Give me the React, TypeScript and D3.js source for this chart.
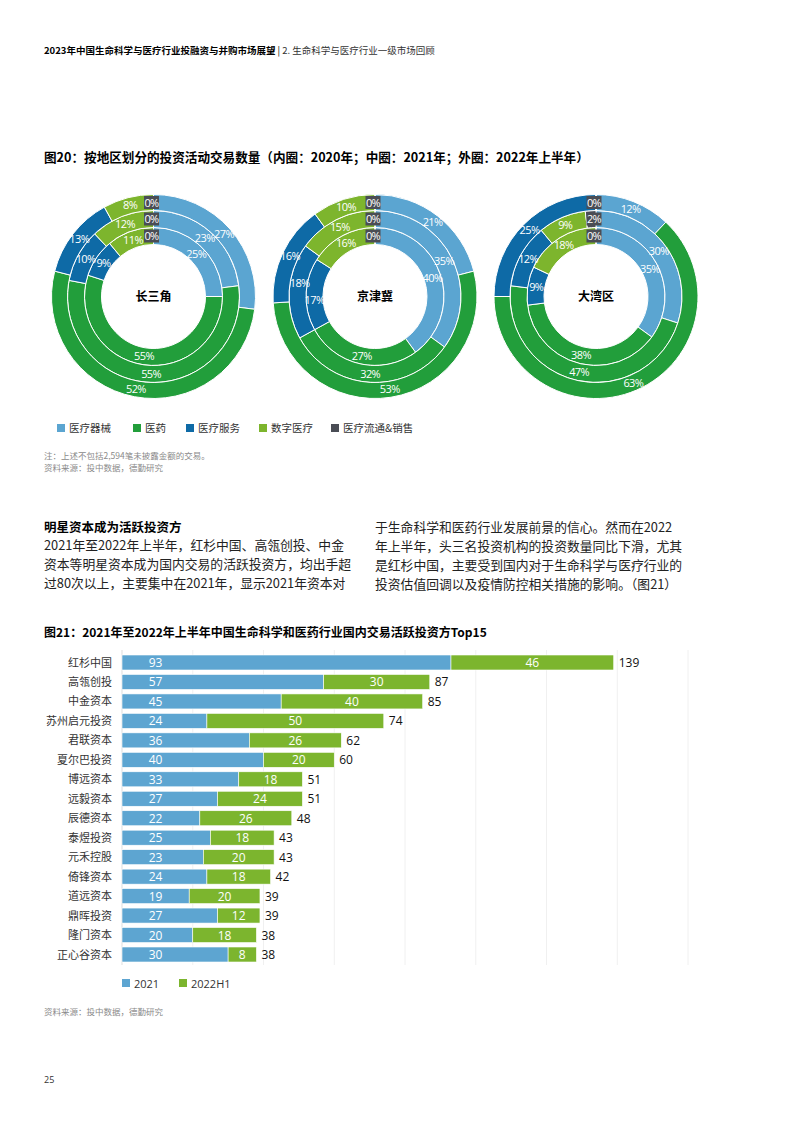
import React from 'react';
import * as d3 from 'd3';

const categories = ['医疗器械', '医药', '医疗服务', '数字医疗', '医疗流通&销售'];
const catColors = ['#5BA5D1', '#229E3B', '#0E6AA6', '#7DB52D', '#4A4D55'];

const regions = ['长三角', '京津冀', '大湾区'];
// rings: inner 2020, middle 2021, outer 2022H1 (percent by category)
const yrd2020 = [25, 55, 9, 11, 0];
const yrd2021 = [23, 55, 10, 12, 0];
const yrd2022 = [27, 52, 13, 8, 0];
const bth2020 = [40, 27, 17, 16, 0];
const bth2021 = [35, 32, 18, 15, 0];
const bth2022 = [21, 53, 16, 10, 0];
const gba2020 = [35, 38, 9, 18, 0];
const gba2021 = [30, 47, 12, 9, 2];
const gba2022 = [12, 63, 25, 0, 0];
const ringData = [
  [yrd2020, yrd2021, yrd2022],
  [bth2020, bth2021, bth2022],
  [gba2020, gba2021, gba2022],
];

const investors = ['红杉中国', '高瓴创投', '中金资本', '苏州启元投资', '君联资本', '夏尔巴投资', '博远资本', '远毅资本', '辰德资本', '泰煜投资', '元禾控股', '倚锋资本', '道远资本', '鼎晖投资', '隆门资本', '正心谷资本'];
const deals2021 = [93, 57, 45, 24, 36, 40, 33, 27, 22, 25, 23, 24, 19, 27, 20, 30];
const deals2022H1 = [46, 30, 40, 50, 26, 20, 18, 24, 26, 18, 20, 18, 20, 12, 18, 8];
const barSeries = ['2021', '2022H1'];
const barColors = ['#5DA5D1', '#7CB52E'];
const xTicks = [0, 20, 40, 60, 80, 100, 120, 140, 160];

const leftLines = [
  '2021年至2022年上半年，红杉中国、高瓴创投、中金',
  '资本等明星资本成为国内交易的活跃投资方，均出手超',
  '过80次以上，主要集中在2021年，显示2021年资本对',
];
const rightLines = [
  '于生命科学和医药行业发展前景的信心。然而在2022',
  '年上半年，头三名投资机构的投资数量同比下滑，尤其',
  '是红杉中国，主要受到国内对于生命科学与医疗行业的',
  '投资估值回调以及疫情防控相关措施的影响。（图21）',
];

const FONT = '"Open Sans", "Noto Sans CJK SC", sans-serif';
const CJK = '"Noto Sans CJK SC", "Open Sans", sans-serif';

// label nudges (donut index-ring index-category index) to avoid collisions
const nudges: Record<string, [number, number]> = {
  '1-1-2': [2, -9],
  '1-0-2': [0, 5],
};

function Donut({ idx, cx, cy, name, rings }: { idx: number; cx: number; cy: number; name: string; rings: number[][] }) {
  const radii = [[52, 69], [69, 86], [86, 102]];
  const pie = d3.pie<number>().sort(null).value((d) => d);
  return (
    <g transform={`translate(${cx},${cy})`}>
      {rings.map((vals, ri) => {
        const [r0, r1] = radii[ri];
        const arc = d3.arc<d3.PieArcDatum<number>>().innerRadius(r0).outerRadius(r1);
        const arcs = pie(vals);
        return (
          <g key={ri}>
            {arcs.map((a, i) => (
              <path key={i} d={arc(a) || ''} fill={catColors[i]} stroke="#fff" strokeWidth={1} />
            ))}
          </g>
        );
      })}
      {rings.map((vals, ri) => {
        const [r0, r1] = radii[ri];
        const arc = d3.arc<d3.PieArcDatum<number>>().innerRadius(r0).outerRadius(r1);
        const arcs = pie(vals);
        const rm = (r0 + r1) / 2;
        return (
          <g key={'l' + ri}>
            {arcs.map((a, i) => {
              if (i === 4) {
                return (
                  <g key={i} transform={`translate(${-2},${-rm})`}>
                    <rect x={-7.5} y={-6.5} width={15} height={13} fill={catColors[4]} />
                    <text x={0} y={4} textAnchor="middle" fontSize={11} fill="#fff" fontFamily={FONT} letterSpacing={-0.6}>{vals[i]}%</text>
                  </g>
                );
              }
              if (vals[i] === 0) return null;
              const [x, y] = arc.centroid(a);
              const nd = nudges[`${idx}-${ri}-${i}`] || [0, 0];
              return (
                <text key={i} x={x + nd[0]} y={y + 4 + nd[1]} textAnchor="middle" fontSize={11} fill="#fff" fontFamily={FONT} letterSpacing={-0.6}>{vals[i]}%</text>
              );
            })}
          </g>
        );
      })}
      <text x={0} y={4.5} textAnchor="middle" fontSize={12} fontWeight="bold" fill="#000" fontFamily={CJK}>{name}</text>
    </g>
  );
}

export default function App() {
  const x = d3.scaleLinear().domain([0, 160]).range([122, 688]);
  const y = d3.scalePoint<string>().domain(investors).range([662.5, 954.5]);
  const barH = 15;
  const donutCenters = [153.5, 375, 596];
  const firstLabelX = x(9.5);

  return (
    <svg width={793} height={1122} style={{ position: 'absolute', left: 0, top: 0, background: '#fff' }} fontFamily={CJK}>
      <rect width={793} height={1122} fill="#fff" />
      {/* header */}
      <text x={44} y={54} fontSize={9.5} fill="#000">
        <tspan fontWeight="bold">2023年中国生命科学与医疗行业投融资与并购市场展望</tspan>
        <tspan fill="#000"> | </tspan>
        <tspan fill="#333">2. 生命科学与医疗行业一级市场回顾</tspan>
      </text>

      {/* figure 20 */}
      <text x={44} y={162} fontSize={12.6} fontWeight="bold" fill="#000">图20：按地区划分的投资活动交易数量（内圈：2020年；中圈：2021年；外圈：2022年上半年）</text>
      {regions.map((r, i) => (
        <Donut key={r} idx={i} cx={donutCenters[i]} cy={296.5} name={r} rings={ringData[i]} />
      ))}
      {/* legend 20 */}
      {categories.map((c, i) => {
        const xs = [57, 133, 186, 259, 331];
        return (
          <g key={c}>
            <rect x={xs[i]} y={424} width={8} height={8} fill={catColors[i]} />
            <text x={xs[i] + 12} y={432} fontSize={10.5} fill="#333">{c}</text>
          </g>
        );
      })}
      <text x={44} y={459} fontSize={8.5} fill="#8a8a8a">注：上述不包括2,594笔未披露金额的交易。</text>
      <text x={44} y={471} fontSize={8.5} fill="#8a8a8a">资料来源：投中数据，德勤研究</text>

      {/* paragraph */}
      <text x={44} y={532} fontSize={12.5} fontWeight="bold" fill="#000">明星资本成为活跃投资方</text>
      {leftLines.map((l, i) => (
        <text key={i} x={44} y={550 + i * 19} fontSize={12.8} fill="#222">{l}</text>
      ))}
      {rightLines.map((l, i) => (
        <text key={i} x={375} y={532 + i * 19} fontSize={12.8} fill="#222">{l}</text>
      ))}

      {/* figure 21 */}
      <text x={44} y={637} fontSize={12} fontWeight="bold" fill="#000">图21：2021年至2022年上半年中国生命科学和医药行业国内交易活跃投资方Top15</text>
      {xTicks.slice(1).map((t) => (
        <line key={t} x1={x(t)} x2={x(t)} y1={650} y2={965} stroke="#ececec" strokeWidth={0.8} />
      ))}
      <line x1={x(0)} x2={x(0)} y1={650} y2={965} stroke="#d4d4d4" strokeWidth={0.8} />
      {investors.map((n, i) => {
        const yc = y(n) as number;
        const a = deals2021[i];
        const b = deals2022H1[i];
        return (
          <g key={n}>
            <text x={112} y={yc + 4} textAnchor="end" fontSize={11} fill="#333">{n}</text>
            <rect x={x(0)} y={yc - barH / 2} width={x(a) - x(0)} height={barH} fill={barColors[0]} stroke="#fff" strokeWidth={0.6} />
            <rect x={x(a)} y={yc - barH / 2} width={x(a + b) - x(a)} height={barH} fill={barColors[1]} stroke="#fff" strokeWidth={0.6} />
            <text x={firstLabelX} y={yc + 4.5} textAnchor="middle" fontSize={12} fill="#fff" fontFamily={FONT}>{a}</text>
            <text x={(x(a) + x(a + b)) / 2} y={yc + 4.5} textAnchor="middle" fontSize={12} fill="#fff" fontFamily={FONT}>{b}</text>
            <text x={x(a + b) + 5} y={yc + 4.5} fontSize={12} fill="#111" fontFamily={FONT}>{a + b}</text>
          </g>
        );
      })}
      {barSeries.map((s, i) => {
        const xs = [122, 179];
        return (
          <g key={s}>
            <rect x={xs[i]} y={979} width={8} height={8} fill={barColors[i]} />
            <text x={xs[i] + 12} y={987.5} fontSize={11} fill="#333" fontFamily={FONT}>{s}</text>
          </g>
        );
      })}
      <text x={44} y={1015} fontSize={8.5} fill="#8a8a8a">资料来源：投中数据，德勤研究</text>
      <text x={44} y={1083} fontSize={9} fill="#333" fontFamily={FONT}>25</text>
    </svg>
  );
}
